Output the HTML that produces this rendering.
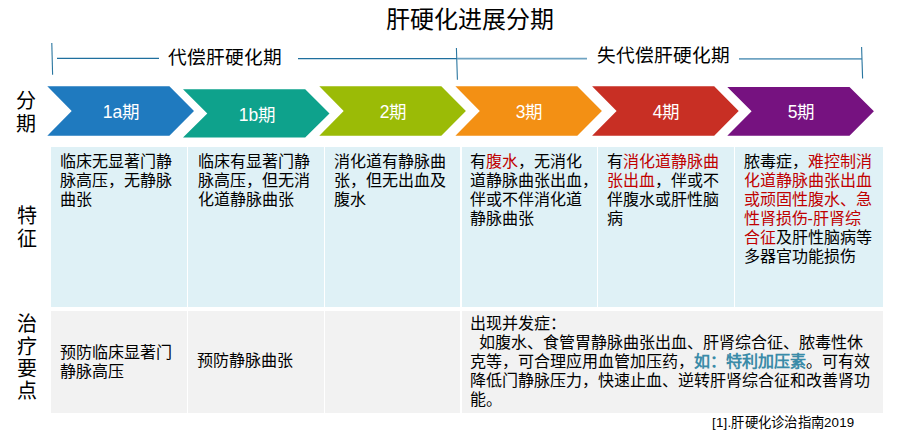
<!DOCTYPE html>
<html lang="zh-CN">
<head>
<meta charset="utf-8">
<title>肝硬化进展分期</title>
<style>
html,body{margin:0;padding:0;background:#fff;}
body{width:900px;height:431px;position:relative;overflow:hidden;
  font-family:"Liberation Sans",sans-serif;color:#000;}
.abs{position:absolute;white-space:nowrap;}
.title{left:370px;width:200px;top:5.8px;text-align:center;font-size:24px;line-height:28px;}
.grp{font-size:18.7px;line-height:22px;}
.side{left:16.5px;width:21px;text-align:center;font-size:20px;line-height:22.4px;white-space:normal;}
.albl{color:#fff;font-size:17.5px;line-height:20px;text-align:center;width:146px;}
.cell{position:absolute;box-sizing:border-box;}
.r2{top:146.5px;height:160.1px;background:#dff1f6;}
.r3{top:310.6px;height:102.8px;background:#f2f2f2;}
.txt{position:absolute;font-size:16px;line-height:19.15px;white-space:nowrap;}
.red{color:#c00000;}
.blue{color:#3a8ba8;font-weight:bold;}
.foot{left:712px;top:414px;font-size:13.33px;line-height:17px;letter-spacing:0.22px;}
svg{position:absolute;left:0;top:0;}
</style>
</head>
<body>
<svg width="900" height="431" viewBox="0 0 900 431">
  <!-- bracket lines -->
  <g fill="none">
    <line x1="51.8" y1="43" x2="52.6" y2="74.7" stroke="#2a76a0" stroke-width="1.1"/>
    <line x1="57" y1="58.4" x2="159" y2="58.4" stroke="#1f6f9e" stroke-width="1.1"/>
    <line x1="298" y1="58.6" x2="457" y2="58.6" stroke="#1f6f9e" stroke-width="1.1"/>
    <line x1="456.4" y1="48" x2="457.4" y2="79.7" stroke="#2a76a0" stroke-width="1.1"/>
    <line x1="457" y1="58.7" x2="587" y2="58.7" stroke="#6fa3c2" stroke-width="1.7"/>
    <line x1="739" y1="58.8" x2="862" y2="58.8" stroke="#6fa3c2" stroke-width="1.7"/>
    <line x1="861.6" y1="47" x2="862.6" y2="78.4" stroke="#2a76a0" stroke-width="1.1"/>
  </g>
  <!-- chevrons -->
  <polygon fill="#1f7abf" points="47.3,86.2 169.4,86.2 194,110.9 169.4,135.7 47.3,135.7 71.7,110.9"/>
  <polygon fill="#0ea28c" points="183,89.3 305.2,89.3 329.5,113.4 305.2,137.6 183,137.6 207.3,113.4"/>
  <polygon fill="#9bbb06" points="319.3,86.2 441.3,86.2 465.9,110.9 441.3,135.7 319.3,135.7 343.7,110.9"/>
  <polygon fill="#f39014" points="455.4,86.2 577.3,86.2 601.9,110.9 577.3,135.7 455.4,135.7 479.8,110.9"/>
  <polygon fill="#c82f24" points="592.1,86.2 714.2,86.2 738.7,110.9 714.2,135.7 592.1,135.7 616.6,110.9"/>
  <polygon fill="#761280" points="727.3,87 849.5,87 873.9,111.3 849.5,135.7 727.3,135.7 751.6,111.3"/>
</svg>

<div class="abs title">肝硬化进展分期</div>

<div class="abs grp" style="left:168px;top:46.8px;">代偿肝硬化期</div>
<div class="abs grp" style="left:596.6px;top:44.8px;">失代偿肝硬化期</div>

<div class="abs side" style="top:90.3px;left:15.5px;">分期</div>
<div class="abs side" style="top:205.2px;">特征</div>
<div class="abs side" style="top:313.2px;">治疗要点</div>

<div class="abs albl" style="left:48px;top:101.5px;">1a期</div>
<div class="abs albl" style="left:184px;top:104.5px;">1b期</div>
<div class="abs albl" style="left:320px;top:101.5px;">2期</div>
<div class="abs albl" style="left:456px;top:101.5px;">3期</div>
<div class="abs albl" style="left:593px;top:101.5px;">4期</div>
<div class="abs albl" style="left:728px;top:102px;">5期</div>

<!-- row 2 cells -->
<div class="cell r2" style="left:51px;width:135.7px;"></div>
<div class="cell r2" style="left:187.9px;width:136.1px;"></div>
<div class="cell r2" style="left:325.2px;width:135.2px;"></div>
<div class="cell r2" style="left:461.6px;width:135.5px;"></div>
<div class="cell r2" style="left:598.3px;width:136px;"></div>
<div class="cell r2" style="left:735.4px;width:147.5px;"></div>
<!-- row 3 cells -->
<div class="cell r3" style="left:51px;width:135.7px;"></div>
<div class="cell r3" style="left:187.9px;width:136.1px;"></div>
<div class="cell r3" style="left:325.2px;width:135.2px;"></div>
<div class="cell r3" style="left:461.6px;width:421.3px;"></div>

<!-- row 2 text -->
<div class="txt" style="left:60.3px;top:151.7px;">临床无显著门静<br>脉高压，无静脉<br>曲张</div>
<div class="txt" style="left:197.5px;top:151.7px;">临床有显著门静<br>脉高压，但无消<br>化道静脉曲张</div>
<div class="txt" style="left:334px;top:151.7px;">消化道有静脉曲<br>张，但无出血及<br>腹水</div>
<div class="txt" style="left:470.3px;top:151.7px;">有<span class="red">腹水</span>，无消化<br>道静脉曲张出血，<br>伴或不伴消化道<br>静脉曲张</div>
<div class="txt" style="left:607.2px;top:151.7px;">有<span class="red">消化道静脉曲<br>张出血</span>，伴或不<br>伴腹水或肝性脑<br>病</div>
<div class="txt" style="left:743.6px;top:151.7px;">脓毒症，<span class="red">难控制消<br>化道静脉曲张出血<br>或顽固性腹水、急<br>性肾损伤-肝肾综<br>合征</span>及肝性脑病等<br>多器官功能损伤</div>

<!-- row 3 text -->
<div class="txt" style="left:60px;top:343.3px;">预防临床显著门<br>静脉高压</div>
<div class="txt" style="left:197.3px;top:351.1px;">预防静脉曲张</div>
<div class="txt" style="left:470.4px;top:313.7px;">出现并发症：<br><span style="padding-left:8.5px">如腹水、食管胃静脉曲张出血、肝肾综合征、脓毒性休</span><br>克等，可合理应用血管加压药，<span class="blue">如：特利加压素</span>。可有效<br>降低门静脉压力，快速止血、逆转肝肾综合征和改善肾功<br>能。</div>

<div class="abs foot">[1].肝硬化诊治指南2019</div>
</body>
</html>
